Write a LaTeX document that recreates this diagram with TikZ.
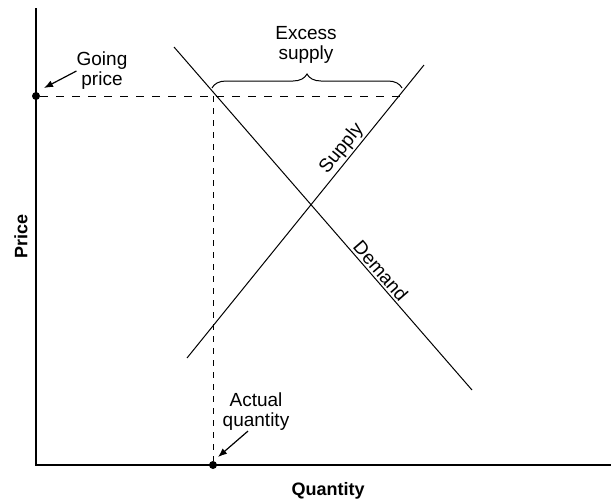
\documentclass[tikz,border=0pt]{standalone}
\usepackage{fontspec}
\setmainfont{Liberation Sans}
\usepackage{tikz}
\usetikzlibrary{arrows.meta,decorations.pathreplacing}

\begin{document}
\begin{tikzpicture}[
  x=1pt, y=-1pt,
  font=\fontsize{19}{20}\selectfont,
  axis/.style={line width=2pt},
  curve/.style={line width=1pt},
  guide/.style={line width=1pt, dash pattern=on 8pt off 8pt},
  txt/.style={align=center, inner sep=0pt},
  axtitle/.style={font=\fontsize{18}{20}\selectfont\bfseries, inner sep=0pt},
  pointer/.style={-{Latex[length=9pt, width=7pt]}, line width=1.2pt},
  dot/.style={circle, fill, inner sep=0pt, minimum size=8pt}
]

\useasboundingbox (0,0) rectangle (613,499);

\coordinate (O) at (36,465);
\coordinate (ytop) at (36,8);
\coordinate (xend) at (611,465);
\draw[axis] (ytop) -- (O) -- (xend);

\node[axtitle, rotate=90] (price) at (21,236) {Price};
\node[axtitle] (quantity) at (328,491) {Quantity};

\coordinate (d1) at (174,47);
\coordinate (d2) at (472,390);
\coordinate (s1) at (187,358);
\coordinate (s2) at (424,65);
\draw[curve] (s1) -- (s2) node[pos=0.69, sloped, above, inner sep=2pt] (supply) {Supply};
\draw[curve] (d1) -- (d2) node[pos=0.67, sloped, above, inner sep=2pt] (demand) {Demand};

\node[dot] (gp) at (36,96) {};
\node[dot] (aq) at (213,465) {};
\coordinate (dq) at (213,96);
\coordinate (sq) at (400,96);
\draw[guide] (gp) -- (sq);
\draw[guide, dash pattern=on 6pt off 6pt] (dq) -- (aq);

\draw[curve, decorate, decoration={brace, amplitude=14pt}] (212,88) -- (402,88);
\node[txt] (excess) at (306,45) {Excess\\supply};

\node[txt] (going) at (102,71) {Going\\price};
\coordinate (gptip) at (44,88);
\draw[pointer] (going.west) -- (gptip);

\node[txt] (actual) at (256,412) {Actual\\quantity};
\coordinate (aqtip) at (218,457);
\draw[pointer] ([xshift=-8pt]actual.south) -- (aqtip);

\end{tikzpicture}
\end{document}
